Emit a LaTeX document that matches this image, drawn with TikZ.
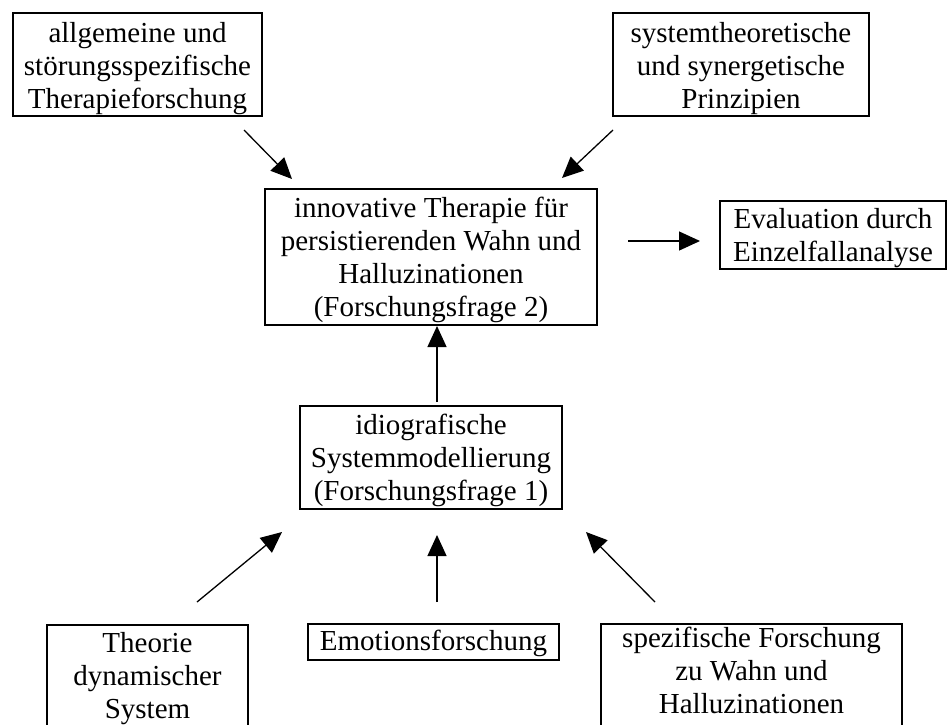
\documentclass[tikz,border=0pt]{standalone}
\usepackage{fontspec}
\setmainfont{Liberation Serif}
\usetikzlibrary{arrows.meta}
% struts that fix the distance from the frame to the first and last baseline
\newcommand\topgap[1]{\rule{0pt}{#1pt}}
\newcommand\botgap[1]{\rule[-#1pt]{0pt}{#1pt}}
\begin{document}
\begin{tikzpicture}[x=1pt,y=-1pt,
  box/.style={draw,line width=1.6pt,inner sep=0pt,align=center,
    font=\fontsize{29}{33}\selectfont},
  arr/.style={line width=1.3pt,-{Triangle[length=21pt,width=19pt]}}]
\useasboundingbox (0,0) rectangle (947,724);
\clip (0,0) rectangle (947,724);
% top sources
\node[box,minimum width=249pt,anchor=north] (forsch) at (137.5,12)
  {\topgap{30}allgemeine und\\störungsspezifische\\Therapieforschung\botgap{7}};
\node[box,minimum width=256pt,anchor=north] (prinz) at (741,12)
  {\topgap{30}systemtheoretische\\und synergetische\\Prinzipien\botgap{7}};
% therapy and evaluation
\node[box,minimum width=332pt,anchor=north] (therapie) at (431,188)
  {\topgap{29}innovative Therapie für\\persistierenden Wahn und\\Halluzinationen\\(Forschungsfrage 2)\botgap{8}};
\node[box,minimum width=226pt,anchor=north] (eval) at (833,200)
  {\topgap{28}Evaluation durch\\Einzelfallanalyse\botgap{7}};
% system modelling
\node[box,minimum width=262pt,anchor=north] (modell) at (431,405)
  {\topgap{29}idiografische\\Systemmodellierung\\(Forschungsfrage 1)\botgap{8}};
% bottom sources
\node[box,minimum width=201pt,anchor=north] (dyn) at (147.5,624)
  {\topgap{28}Theorie\\dynamischer\\System\botgap{12}};
\node[box,minimum width=251pt,anchor=north] (emo) at (433.5,623)
  {\topgap{27}Emotionsforschung\botgap{9}};
\node[box,minimum width=301pt,anchor=north] (spez) at (751.5,623)
  {\topgap{24}spezifische Forschung\\zu Wahn und\\Halluzinationen\botgap{12}};
% arrow end points
\coordinate (a1) at (244,130);  \coordinate (a2) at (292,179);
\coordinate (b1) at (613,130);  \coordinate (b2) at (562,178);
\coordinate (c1) at (628,241);  \coordinate (c2) at (700,241);
\coordinate (d1) at (437,402);  \coordinate (d2) at (437,326);
\coordinate (e1) at (197,602);  \coordinate (e2) at (282,532);
\coordinate (f1) at (437,602);  \coordinate (f2) at (437,535);
\coordinate (g1) at (655,602);  \coordinate (g2) at (586,532);
\draw[arr] (a1) -- (a2);
\draw[arr] (b1) -- (b2);
\draw[arr] (c1) -- (c2);
\draw[arr] (d1) -- (d2);
\draw[arr] (e1) -- (e2);
\draw[arr] (f1) -- (f2);
\draw[arr] (g1) -- (g2);
\end{tikzpicture}
\end{document}
